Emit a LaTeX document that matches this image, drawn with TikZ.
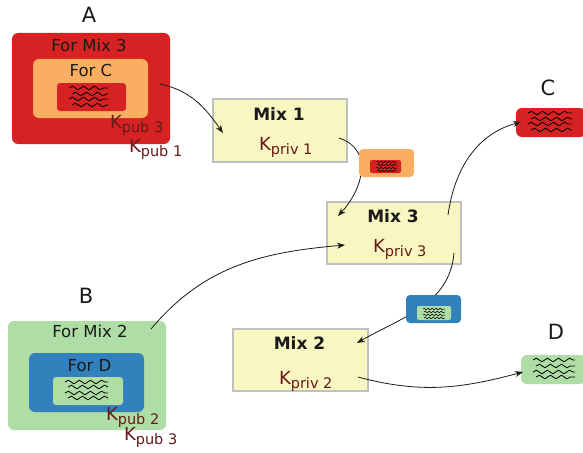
\documentclass[tikz,border=0pt]{standalone}
\usepackage{fontspec}
\setmainfont{DejaVu Sans}
\usetikzlibrary{arrows.meta,decorations.pathmorphing}
\definecolor{cRed}{RGB}{214,34,34}
\definecolor{cOrange}{RGB}{250,174,98}
\definecolor{cGreen}{RGB}{174,222,165}
\definecolor{cBlue}{RGB}{50,128,188}
\definecolor{cYellow}{RGB}{248,247,194}
\definecolor{cGray}{RGB}{192,192,192}
\definecolor{cKey}{RGB}{105,25,25}
\definecolor{cText}{RGB}{26,26,26}
\newcommand{\keysub}[1]{K\raisebox{-4.5pt}{\fontsize{14.5}{16}\selectfont #1}}
\tikzset{
 every node/.style={inner sep=0pt, outer sep=0pt},
 env/.style={rectangle, rounded corners=6pt, draw=none},
 inner/.style={rectangle, rounded corners=3pt, draw=none},
 mixbox/.style={rectangle, fill=cYellow, draw=cGray, line width=1.2pt},
 lbl/.style={font=\fontsize{16.5}{18}\selectfont, text=cText, anchor=base},
 big/.style={font=\fontsize{21}{24}\selectfont, text=cText, anchor=center},
 mixlbl/.style={font=\fontsize{17}{20}\selectfont\bfseries, text=cText, anchor=base},
 keylbl/.style={text=cKey, anchor=base west, font=\fontsize{18}{20}\selectfont},
 conn/.style={draw=cText, line width=0.8pt, -{Stealth[length=8pt,width=6pt]}},
 wave/.style={decorate, decoration={snake, amplitude=1.8pt, segment length=11pt}, line width=0.8pt},
 swave/.style={decorate, decoration={snake, amplitude=0.9pt, segment length=4pt}, line width=0.5pt},
}
\newcommand{\wavebox}[6]{% x1 x2 y1 y2 y3 y4
 \draw[wave] (#1,-#3) -- (#2,-#3);
 \draw[wave] (#1+3,-#4) -- (#2,-#4);
 \draw[wave] (#1,-#5) -- (#2,-#5);
 \draw[wave] (#1+3,-#6) -- (#2,-#6);
}
\begin{document}
\begin{tikzpicture}[x=1pt,y=1pt]
\useasboundingbox (0,0) rectangle (583,-452);
\fill[white] (0,0) rectangle (583,-452);

% ---- A ----
\node[big] (lA) at (89,-15) {A};
\node[env, fill=cRed, minimum width=158pt, minimum height=111pt] (Aout) at (91,-88.5) {};
\node[lbl] (Aformix) at (89,-52) {For Mix 3};
\node[env, fill=cOrange, minimum width=115pt, minimum height=59pt] (Amid) at (90.5,-88.5) {};
\node[lbl] (AforC) at (91,-77) {For C};
\node[inner, fill=cRed, minimum width=69pt, minimum height=28pt] (Ain) at (91.5,-97) {};
\wavebox{69}{108}{88}{94}{99}{105}
\node[keylbl] (Ak3) at (110,-128) {\keysub{pub 3}};
\node[keylbl] (Ak1) at (129,-152) {\keysub{pub 1}};

% ---- B ----
\node[big] (lB) at (86,-296) {B};
\node[env, fill=cGreen, minimum width=158pt, minimum height=109pt] (Bout) at (87,-375.5) {};
\node[lbl] (Bformix) at (90,-337) {For Mix 2};
\node[env, fill=cBlue, minimum width=115pt, minimum height=59pt] (Bmid) at (86.5,-382.5) {};
\node[lbl] (BforD) at (89.5,-371) {For D};
\node[inner, fill=cGreen, minimum width=70pt, minimum height=28pt] (Bin) at (88,-391) {};
\wavebox{65}{108}{382}{387}{393}{398}
\node[keylbl] (Bk2) at (106,-420) {\keysub{pub 2}};
\node[keylbl] (Bk3) at (124,-440) {\keysub{pub 3}};

% ---- Mixes ----
\node[mixbox, minimum width=134pt, minimum height=63pt] (M1) at (280,-130.5) {};
\node[mixlbl] (M1t) at (279,-120) {Mix 1};
\node[keylbl] (M1k) at (259,-150) {\keysub{priv 1}};

\node[mixbox, minimum width=134pt, minimum height=62pt] (M3) at (394,-233) {};
\node[mixlbl] (M3t) at (393,-222) {Mix 3};
\node[keylbl] (M3k) at (373,-252) {\keysub{priv 3}};

\node[mixbox, minimum width=135pt, minimum height=62pt] (M2) at (300.5,-360) {};
\node[mixlbl] (M2t) at (299.5,-349) {Mix 2};
\node[keylbl] (M2k) at (279,-384) {\keysub{priv 2}};

% ---- C, D ----
\node[big] (lC) at (548,-88) {C};
\node[env, fill=cRed, minimum width=70pt, minimum height=29pt] (Cbox) at (551,-122.5) {};
\wavebox{528}{572}{113}{119}{124}{130}
\node[big] (lD) at (556,-332) {D};
\node[env, fill=cGreen, minimum width=65pt, minimum height=29pt] (Dbox) at (553.5,-369.5) {};
\wavebox{533}{575}{360}{366}{372}{377}

% ---- connector end points ----
\coordinate (a1) at (160,-84);
\coordinate (m1in) at (223,-133);
\coordinate (m1out) at (339,-138);
\coordinate (m3in1) at (338,-216);
\coordinate (b1) at (151,-329);
\coordinate (m3in2) at (345,-245);
\coordinate (m3out1) at (448,-215);
\coordinate (cin) at (521,-122);
\coordinate (m3out2) at (454,-253);
\coordinate (m2in) at (357,-343);
\coordinate (m2out) at (358,-377);
\coordinate (din) at (523,-372);

\draw[conn] (a1) to[out=-12, in=125] (m1in);
\draw[conn] (m1out) .. controls (375,-150) and (362,-190) .. (m3in1);
\draw[conn] (b1) to[out=50, in=185] (m3in2);
\draw[conn] (m3out1) to[out=82, in=195] (cin);
\draw[conn] (m3out2) to[out=-95, in=30] (m2in);
\draw[conn] (m2out) to[out=-15, in=195] (din);

% ---- message boxes ----
\node[env, rounded corners=4pt, fill=cOrange, minimum width=55pt, minimum height=28pt] (msg1) at (386.5,-163) {};
\node[inner, rounded corners=2pt, fill=cRed, minimum width=31pt, minimum height=13pt] (msg1in) at (385.5,-166.5) {};
\draw[swave] (376,-162) -- (397,-162);
\draw[swave] (377,-165) -- (397,-165);
\draw[swave] (376,-168) -- (397,-168);
\draw[swave] (377,-171) -- (397,-171);
\node[env, rounded corners=4pt, fill=cBlue, minimum width=55pt, minimum height=28pt] (msg2) at (433.5,-309) {};
\node[inner, rounded corners=2pt, fill=cGreen, minimum width=34pt, minimum height=14pt] (msg2in) at (434,-313) {};
\draw[swave] (423,-309) -- (445,-309);
\draw[swave] (424,-312) -- (445,-312);
\draw[swave] (423,-315) -- (445,-315);
\draw[swave] (424,-318) -- (445,-318);
\end{tikzpicture}
\end{document}
